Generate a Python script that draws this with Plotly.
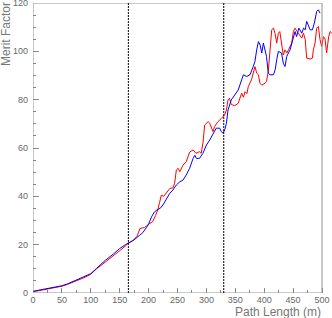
import plotly.graph_objects as go

# ---- data ----
red_x = [0, 10, 25, 40, 50, 60, 75, 90, 100, 110, 125, 140, 150, 160, 165, 172, 180, 185, 193, 202, 207, 212, 216, 219, 222, 226, 231, 237, 242, 245, 248, 251, 254, 259.5, 265, 271, 277, 282, 288, 291, 294, 297, 303, 306, 309, 311.5, 314, 320, 326, 331.7, 334.6, 337.4, 340, 343, 349, 355, 361, 364, 367, 370, 372.5, 378, 381, 384, 387, 390, 392.7, 395.7, 401.5, 404, 407, 410, 413, 416, 418.7, 421.6, 424.5, 427, 430, 433, 436, 439, 442, 447.6, 450.5, 453.4, 459, 465, 468, 471, 473.5, 479.5, 483.4, 485, 488, 490.8, 493.7, 496.6, 499.5, 502.4, 505, 508, 511.5, 514, 517]
red_y = [0.5, 0.9, 1.5, 2.2, 2.8, 3.6, 5.0, 6.5, 7.8, 10.0, 12.8, 15.5, 17.5, 19.5, 20.6, 21.5, 23.5, 26.7, 27.1, 28.8, 29.5, 32.0, 34.5, 37.5, 40.5, 40.0, 41.5, 43.3, 43.5, 45.4, 50.9, 51.6, 50.2, 52.9, 54.3, 58.3, 59.2, 57.8, 58.5, 57.8, 62.0, 69.5, 70.9, 70.2, 68.2, 66.8, 68.8, 70.9, 72.3, 73.7, 75.7, 79.9, 80.6, 78.0, 77.5, 78.5, 82.7, 81.0, 83.3, 82.5, 85.4, 88.2, 91.0, 93.7, 91.0, 90.3, 86.8, 86.0, 86.8, 87.5, 91.6, 99.3, 108.9, 109.6, 107.5, 103.4, 107.5, 108.2, 103.4, 98.5, 100.6, 99.3, 100.6, 103.4, 108.2, 109.6, 107.5, 105.5, 107.5, 104.8, 97.2, 96.8, 97.2, 100.6, 103.4, 109.6, 110.3, 104.8, 102.0, 106.0, 105.5, 99.3, 106.0, 108.2, 107.5]

blue_x = [0, 10, 25, 40, 50, 60, 75, 90, 100, 110, 125, 140, 150, 160, 167, 175, 184.6, 190, 196, 200, 205, 210, 215, 220, 225, 230.8, 236.5, 242, 248, 254, 259.5, 265, 271, 277, 280, 282.6, 288, 294, 300, 305.7, 311.5, 317, 323, 325.8, 328.7, 331.7, 334.6, 337.4, 343, 349, 355, 361, 364, 369.7, 375.5, 381, 384, 387, 390, 393, 395.7, 398.6, 401.5, 404, 407, 410, 416, 419, 421.6, 424.5, 430, 433, 436, 439, 444.7, 447.6, 450.5, 453.4, 456, 460, 465, 468, 471, 473.5, 476, 479.5, 483.4, 486.8, 490.8, 493.7, 496.6]
blue_y = [0.7, 1.1, 1.7, 2.4, 3.0, 3.8, 5.3, 6.8, 8.0, 10.2, 13.5, 16.3, 18.4, 20.0, 20.8, 22.0, 23.9, 25.0, 27.0, 28.5, 31.5, 33.5, 34.5, 35.0, 36.5, 38.7, 41.2, 42.6, 44.7, 46.0, 46.7, 48.8, 51.6, 55.7, 57.0, 55.7, 55.7, 57.8, 61.2, 63.3, 66.1, 68.2, 68.2, 66.8, 66.1, 67.5, 70.2, 75.7, 79.9, 82.0, 84.0, 88.2, 90.3, 89.6, 90.3, 93.7, 95.8, 100.6, 104.0, 102.6, 99.3, 103.4, 100.6, 97.9, 91.0, 90.3, 90.3, 92.4, 96.5, 100.0, 99.3, 95.1, 93.7, 97.9, 100.6, 103.4, 106.1, 108.2, 106.1, 109.6, 107.5, 109.6, 108.9, 112.4, 111.0, 108.9, 108.9, 111.7, 116.5, 117.2, 115.8]

marker_x = [165, 330]
x_max, y_max = 500, 120
x_title = "Path Length (m)"
y_title = "Merit Factor"

fig = go.Figure()
fig.add_trace(go.Scatter(x=red_x, y=red_y, mode="lines",
                         line=dict(color="#ff0000", width=1), showlegend=False))
fig.add_trace(go.Scatter(x=blue_x, y=blue_y, mode="lines",
                         line=dict(color="#0000ff", width=1), showlegend=False))

# frame
fig.add_shape(type="rect", x0=0, x1=x_max, y0=0, y1=y_max, xref="x", yref="y",
              line=dict(color="#909090", width=1), layer="above")
for xv in marker_x:
    fig.add_shape(type="line", x0=xv, x1=xv, y0=0, y1=y_max, xref="x", yref="y",
                  line=dict(color="#000000", width=1, dash="2px,1px"), layer="above")

tickfont = dict(family="Liberation Sans, Arial, sans-serif", size=9, color="#666666")
fig.update_xaxes(range=[0, 517.3], tickmode="linear", tick0=0, dtick=50,
                 ticks="inside", ticklen=5, tickcolor="#888888", tickwidth=1,
                 minor=dict(dtick=25, ticks="inside", ticklen=3, tickcolor="#888888"),
                 showgrid=False, zeroline=False, showline=False, tickfont=tickfont,
                 automargin=False, ticklabeloverflow="allow")
fig.update_yaxes(range=[0, y_max], tickmode="linear", tick0=0, dtick=20,
                 ticks="inside", ticklen=6, tickcolor="#888888", tickwidth=1,
                 minor=dict(dtick=5, ticks="inside", ticklen=3, tickcolor="#888888"),
                 showgrid=False, zeroline=False, showline=False, tickfont=tickfont,
                 ticklabelstandoff=4, automargin=False, ticklabeloverflow="allow")

titlefont = dict(family="Liberation Sans, Arial, sans-serif", size=12, color="#777777")
fig.add_annotation(text=x_title, xref="paper", yref="paper", x=1, y=0,
                   xanchor="right", yanchor="top", xshift=-9, yshift=-10,
                   showarrow=False, font=titlefont)
fig.add_annotation(text=y_title, xref="paper", yref="paper", x=0, y=1,
                   xanchor="center", yanchor="top", xshift=-27, yshift=3,
                   textangle=-90, showarrow=False, font=titlefont)

fig.update_layout(width=332, height=318, margin=dict(l=33, r=0, t=3, b=25, autoexpand=False),
                  paper_bgcolor="white", plot_bgcolor="white", showlegend=False)
fig.write_html("out.html", config={"displayModeBar": False},
               post_script="document.body.style.margin='0';document.body.style.overflow='hidden';")
